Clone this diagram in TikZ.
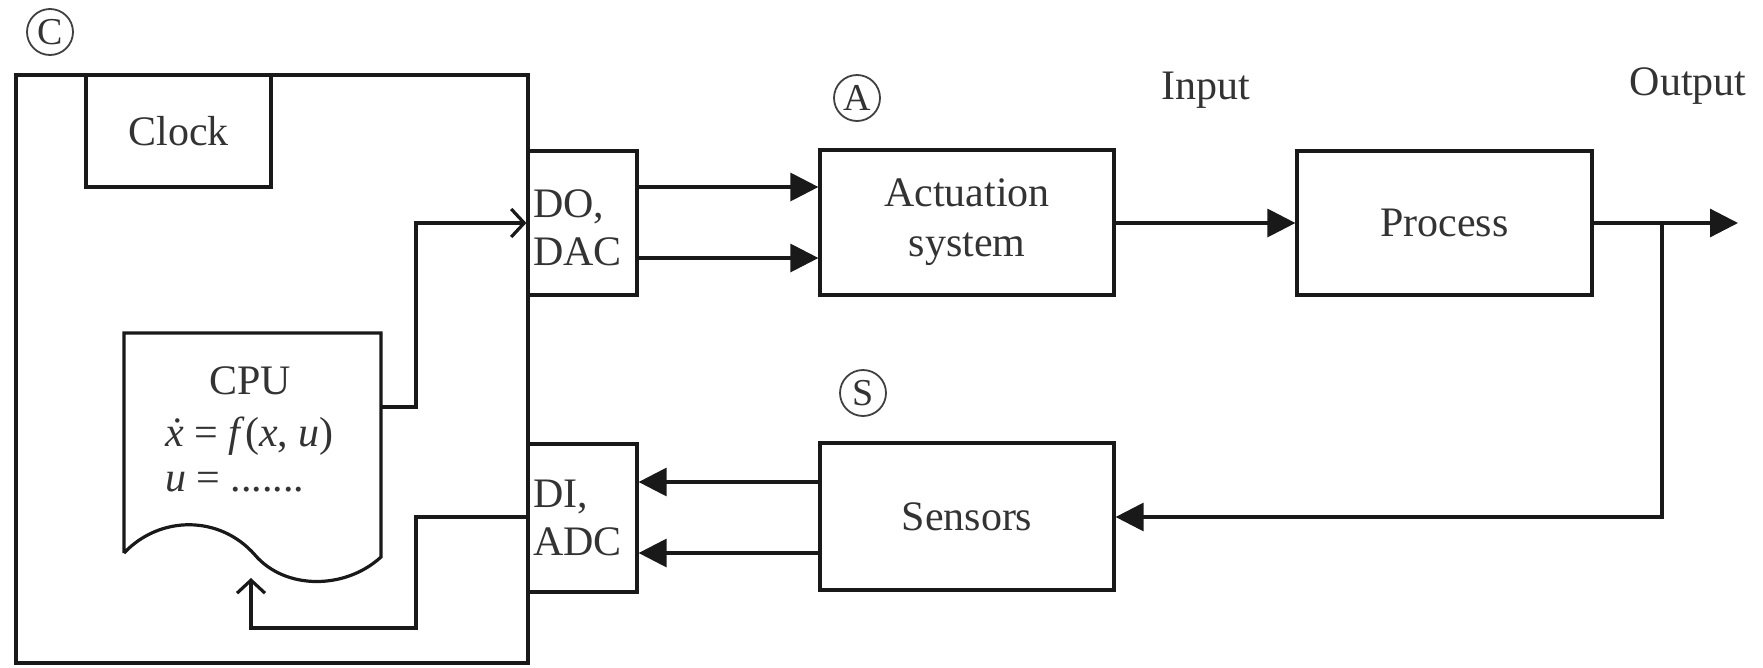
\documentclass[tikz,border=0pt]{standalone}
\usepackage{fontspec}
\setmainfont{Liberation Serif}
\usetikzlibrary{arrows.meta}
\begin{document}
\begin{tikzpicture}[x=1pt,y=-1pt,
  every node/.style={text=black!80},
  blk/.style={draw=black!90, line width=3.2pt, inner sep=0pt, rectangle, align=center},
  lbl/.style={font=\fontsize{42}{50}\selectfont, inner sep=0pt, align=center},
  circ/.style={circle, draw=black!75, line width=1.8pt, minimum size=46pt, inner sep=0pt, font=\fontsize{38}{38}\selectfont},
  conn/.style={draw=black!90, line width=3.2pt},
  farrow/.style={conn, -{Triangle[length=28pt,width=28pt]}},
  oarrow/.style={conn, -{Straight Barb[length=13pt,width=28pt,line width=3.2pt]}}
]
\useasboundingbox (0,0) rectangle (1763,667);
% boxes
\node[blk, minimum width=512pt, minimum height=588pt] (ctrl) at (272,369) {};
\node[blk, minimum width=185pt, minimum height=112pt, lbl] (clock) at (178.5,131) {Clock};
\node[blk, minimum width=109pt, minimum height=144pt] (do) at (582.5,223) {};
\node[blk, minimum width=109pt, minimum height=148pt] (di) at (582.5,518) {};
\node[blk, minimum width=294pt, minimum height=145pt, lbl] (act) at (967,222.5) {Actuation\\system};
\node[blk, minimum width=295pt, minimum height=144pt, lbl] (proc) at (1444.5,223) {Process};
\node[blk, minimum width=294pt, minimum height=147pt, lbl] (sens) at (967,516.5) {Sensors};
% texts
\node[lbl, anchor=west] (dotxt) at (533,207) {DO,};
\node[lbl, anchor=west] (dactxt) at (533,252) {DAC};
\node[lbl, anchor=west] (ditxt) at (533,497) {DI,};
\node[lbl, anchor=west] (adctxt) at (533,542) {ADC};
\node[lbl] (input) at (1206,90) {Input};
\node[lbl] (output) at (1688,86) {Output};
\node[lbl] (cputxt) at (250,381) {CPU};
\node[lbl, anchor=west] (eq1) at (165,436) {\textit{\.{x}} = \textit{f}(\textit{x}, \textit{u})};
\node[lbl, anchor=west] (eq2) at (165,482) {\textit{u} = .......};
% circled letters
\node[circ] (cC) at (50,32) {C};
\node[circ] (cA) at (857,98) {A};
\node[circ] (cS) at (863,393) {S};
% CPU document shape
\draw[conn] (124,553) -- (124,333) -- (381,333) -- (381,557)
  .. controls (345,590) and (285,590) .. (255,555)
  .. controls (220,515) and (160,515) .. (124,553);
\coordinate (cpuout) at (381,407);
\coordinate (cpuin) at (251,578);
% connectors
\draw[oarrow] (cpuout) -- (416,407) -- (416,223) -- (do.west |- 0,223);
\draw[oarrow] (di.west |- 0,517) -- (416,517) -- (416,628) -- (251,628) -- (cpuin);
\draw[farrow] (do.east |- 0,187) -- (act.west |- 0,187);
\draw[farrow] (do.east |- 0,258) -- (act.west |- 0,258);
\draw[farrow] (act.east |- 0,223) -- (proc.west |- 0,223);
\coordinate (br) at (1662,223);
\coordinate (outend) at (1738,223);
\draw[farrow] (proc.east |- 0,223) -- (outend);
\draw[farrow] (br) -- (1662,517) -- (sens.east |- 0,517);
\draw[farrow] (sens.west |- 0,482) -- (di.east |- 0,482);
\draw[farrow] (sens.west |- 0,553) -- (di.east |- 0,553);
\end{tikzpicture}
\end{document}
